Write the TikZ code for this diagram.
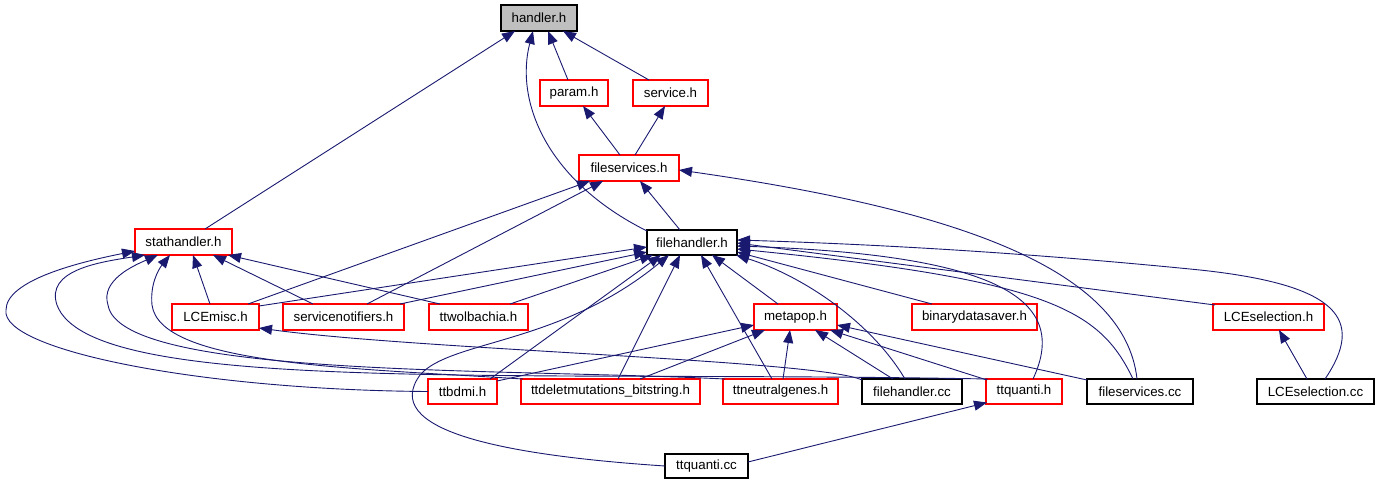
\documentclass[tikz,border=0pt]{standalone}
\usepackage{fontspec}
\setmainfont{Liberation Sans}
\usetikzlibrary{arrows.meta,calc}
\definecolor{edgeblue}{HTML}{191970}
\definecolor{boxred}{HTML}{FF0000}
\definecolor{boxgray}{HTML}{BFBFBF}
\begin{document}
\begin{tikzpicture}[x=1pt,y=-1pt,
  box/.style={draw=boxred, line width=1.1pt, fill=white, minimum height=26pt, inner sep=0pt, font=\fontsize{13.3}{15}\selectfont},
  blackbox/.style={box, draw=black},
  rootbox/.style={box, draw=black, fill=boxgray},
  edge/.style={draw=edgeblue, line width=0.9pt, -{Triangle[length=13pt,width=10pt]}}]
\useasboundingbox (0,0) rectangle (1381,485);
% nodes
\node[rootbox, minimum width=76pt] (h) at (539,18) {handler.h};
\node[box, minimum width=68pt] (pa) at (574,93) {param.h};
\node[box, minimum width=75pt] (se) at (670.5,93) {service.h};
\node[box, minimum width=100pt] (fsh) at (629,168) {fileservices.h};
\node[blackbox, minimum width=90pt, minimum height=25pt] (fh) at (692,242.5) {filehandler.h};
\node[box, minimum width=97pt] (st) at (183.5,242) {stathandler.h};
\node[box, minimum width=87pt] (lm) at (215.5,317) {LCEmisc.h};
\node[box, minimum width=121pt] (sn) at (343.5,317) {servicenotifiers.h};
\node[box, minimum width=99pt] (tw) at (478.5,317) {ttwolbachia.h};
\node[box, minimum width=83pt] (mp) at (795.5,317) {metapop.h};
\node[box, minimum width=125pt] (bd) at (974.5,317) {binarydatasaver.h};
\node[box, minimum width=111pt] (ls) at (1268.5,317) {LCEselection.h};
\node[box, minimum width=69pt, minimum height=25pt] (bm) at (462.5,391.5) {ttbdmi.h};
\node[box, minimum width=179pt, minimum height=25pt] (td) at (610.5,391.5) {ttdeletmutations\_bitstring.h};
\node[box, minimum width=115pt, minimum height=25pt] (tn) at (780.5,391.5) {ttneutralgenes.h};
\node[blackbox, minimum width=100pt, minimum height=25pt] (fc) at (912,391.5) {filehandler.cc};
\node[box, minimum width=76pt, minimum height=25pt] (tq) at (1024,391.5) {ttquanti.h};
\node[blackbox, minimum width=106pt, minimum height=25pt] (fsc) at (1140,391.5) {fileservices.cc};
\node[blackbox, minimum width=117pt, minimum height=25pt] (lc) at (1315.5,391.5) {LCEselection.cc};
\node[blackbox, minimum width=83pt, minimum height=24pt] (qc) at (706.5,466) {ttquanti.cc};
% edges to handler.h
\draw[edge] ($(st.center)+(21.5,-13)$) -- ($(h.center)+(-24,13)$);
\draw[edge] ($(fh.center)+(-45,-11.5)$) .. controls (545,180) and (515,100) .. ($(h.center)+(-6,13)$);
\draw[edge] ($(pa.center)+(-6,-13)$) -- ($(h.center)+(9,13)$);
\draw[edge] ($(se.center)+(-21.5,-13)$) -- ($(h.center)+(24,13)$);
% edges to param.h / service.h
\draw[edge] ($(fsh.center)+(-9,-13)$) -- ($(pa.center)+(9,13)$);
\draw[edge] ($(fsh.center)+(6,-13)$) -- ($(se.center)+(-5.5,13)$);
% edges to fileservices.h
\draw[edge] ($(fh.center)+(-12,-12.5)$) -- ($(fsh.center)+(11,13)$);
\draw[edge] ($(lm.center)+(32.5,-13)$) -- ($(fsh.center)+(-39,13)$);
\draw[edge] ($(sn.center)+(23.5,-13)$) -- ($(fsh.center)+(-26,13)$);
\draw[edge] ($(fsc.center)+(-3,-12.5)$) .. controls (1125,270) and (960,210) .. ($(fsh.center)+(50,2)$);
% edges to stathandler.h
\draw[edge] ($(lm.center)+(-5.5,-13)$) -- ($(st.center)+(9.5,13)$);
\draw[edge] ($(sn.center)+(-30.5,-13)$) -- ($(st.center)+(29.5,13)$);
\draw[edge] ($(tw.center)+(-38.5,-13)$) -- ($(st.center)+(44.5,13)$);
\draw[edge] ($(bm.center)+(-34.5,0)$) .. controls (200,390) and (0,350) .. (6,310) .. controls (6,280) and (80,262) .. ($(st.center)+(-48.5,9)$);
\draw[edge] ($(tq.center)+(-36,-12.5)$) .. controls (500,370) and (90,395) .. (57,305) .. controls (45,270) and (100,262) .. ($(st.center)+(-38.5,13)$);
\draw[edge] ($(tn.center)+(-55.5,-12.5)$) .. controls (500,368) and (120,378) .. (108,305) .. controls (100,280) and (135,265) .. ($(st.center)+(-25.5,13)$);
\draw[edge] ($(td.center)+(-87.5,-12.5)$) .. controls (350,368) and (160,365) .. (152,305) .. controls (150,285) and (158,270) .. ($(st.center)+(-13.5,13)$);
% edge to LCEmisc.h
\draw[edge] ($(fc.center)+(-50,-11.5)$) .. controls (820,360) and (420,350) .. ($(lm.center)+(43.5,11)$);
% edges to filehandler.h
\draw[edge] ($(lm.center)+(43.5,-11)$) -- ($(fh.center)+(-45,4.5)$);
\draw[edge] ($(sn.center)+(56.5,-13)$) -- ($(fh.center)+(-45,9.5)$);
\draw[edge] ($(tw.center)+(31.5,-13)$) -- ($(fh.center)+(-39,12.5)$);
\draw[edge] ($(bm.center)+(27.5,-12.5)$) -- ($(fh.center)+(-31,12.5)$);
\draw[edge] ($(qc.center)+(-41.5,0)$) .. controls (500,455) and (380,430) .. (420,375) .. controls (450,340) and (560,345) .. ($(fh.center)+(-23,12.5)$);
\draw[edge] ($(td.center)+(7.5,-12.5)$) -- ($(fh.center)+(-12,12.5)$);
\draw[edge] ($(tn.center)+(-8.5,-12.5)$) -- ($(fh.center)+(9,12.5)$);
\draw[edge] ($(mp.center)+(-17.5,-13)$) -- ($(fh.center)+(20,12.5)$);
\draw[edge] ($(fc.center)+(-7,-12.5)$) .. controls (870,320) and (800,275) .. ($(fh.center)+(44,12.5)$);
\draw[edge] ($(bd.center)+(-42.5,-13)$) -- ($(fh.center)+(45,9.5)$);
\draw[edge] ($(fsc.center)+(-7,-12.5)$) .. controls (1100,310) and (1050,280) .. ($(fh.center)+(45,6.5)$);
\draw[edge] ($(tq.center)+(9,-12.5)$) .. controls (1070,300) and (1000,255) .. ($(fh.center)+(45,3.5)$);
\draw[edge] ($(ls.center)+(-53.5,-12)$) -- ($(fh.center)+(45,0.5)$);
\draw[edge] ($(lc.center)+(9.5,-12.5)$) .. controls (1365,320) and (1340,285) .. (1200,270) .. controls (1050,255) and (900,245) .. ($(fh.center)+(45,-2.5)$);
% edges to metapop.h
\draw[edge] ($(bm.center)+(34.5,-10.5)$) -- ($(mp.center)+(-41.5,8)$);
\draw[edge] ($(td.center)+(29.5,-12.5)$) -- ($(mp.center)+(-30.5,13)$);
\draw[edge] ($(tn.center)+(2.5,-12.5)$) -- ($(mp.center)+(-5.5,13)$);
\draw[edge] ($(fc.center)+(-19,-12.5)$) -- ($(mp.center)+(19.5,13)$);
\draw[edge] ($(tq.center)+(-37,-11.5)$) -- ($(mp.center)+(34.5,13)$);
\draw[edge] ($(fsc.center)+(-53,-11.5)$) -- ($(mp.center)+(41.5,8)$);
% other edges
\draw[edge] ($(qc.center)+(41.5,-4)$) -- ($(tq.center)+(-37,11)$);
\draw[edge] ($(lc.center)+(-8.5,-12.5)$) -- ($(ls.center)+(10.5,13)$);
\end{tikzpicture}
\end{document}
